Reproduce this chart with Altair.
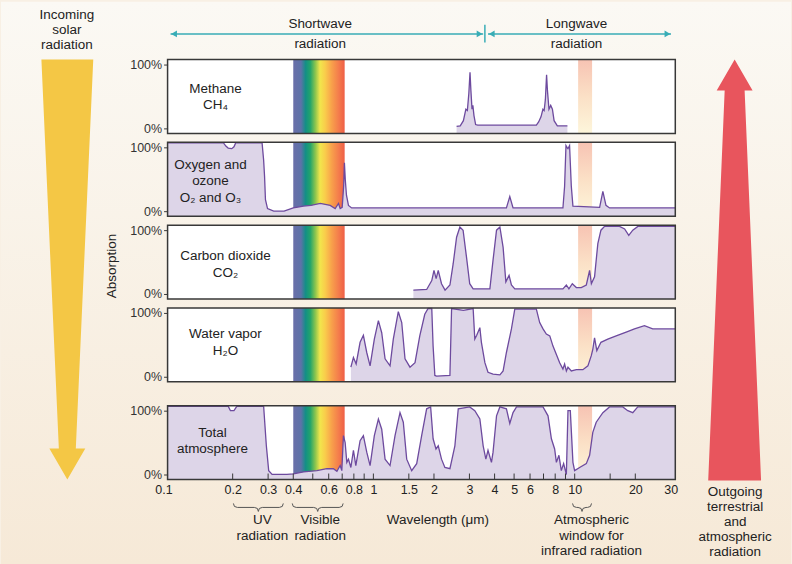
import altair as alt
import pandas as pd

# ---------------- data ----------------
tick_labels = [0.1, 0.2, 0.3, 0.4, 0.6, 0.8, 1, 1.5, 2, 3, 4, 5, 6, 8, 10, 20, 30]
tick_marks = [0.2, 0.3, 0.4, 0.5, 0.6, 0.7, 0.8, 0.9, 1, 1.5, 2, 3, 4, 5, 6, 7, 8, 9, 10, 15, 20]

visible_band = [0.40, 0.72]
window_band = [10.4, 12.2]

methane_wl = [2.59, 2.70, 2.80, 2.88, 2.93, 2.98, 3.02, 3.05, 3.09, 3.12, 3.16, 3.22, 3.30,
              6.45, 6.62, 6.80, 6.95, 7.05, 7.15, 7.25, 7.32, 7.45, 7.60, 7.75, 7.90, 8.20, 9.20]
methane_abs = [3, 4, 12, 30, 28, 55, 88, 60, 30, 36, 20, 6, 5,
               5, 10, 18, 30, 28, 45, 84, 60, 30, 36, 30, 12, 4, 4]

oxygen_wl = [0.095, 0.180, 0.185, 0.190, 0.198, 0.203, 0.207, 0.280, 0.285, 0.288, 0.291, 0.298,
             0.320, 0.360, 0.400, 0.450, 0.490, 0.545, 0.610, 0.646, 0.671, 0.684, 0.700, 0.712,
             0.718, 0.725, 0.735, 0.752, 0.780, 4.58, 4.76, 4.94, 8.74, 8.91, 9.05, 9.20, 9.26,
             9.43, 9.62, 9.80, 13.3, 13.8, 14.3, 14.9, 31.6]
oxygen_abs = [107, 107, 102, 99, 98, 101, 107, 107, 80, 55, 18, 4,
              0, 0, 5, 8, 9, 12, 9, 4, 12, 4, 6, 40,
              76, 50, 25, 9, 5, 5, 23, 5, 5, 39, 103, 99, 98,
              103, 39, 8, 6, 31, 9, 5, 5]

co2_wl = [1.58, 1.84, 1.95, 2.00, 2.05, 2.10, 2.18, 2.27, 2.40, 2.49, 2.59, 2.69, 2.79, 2.90,
          3.01, 3.13, 3.79, 3.93, 4.09, 4.25, 4.41, 4.55, 4.72, 4.85, 5.04, 8.74, 9.09, 9.36,
          9.73, 10.19, 10.78, 11.42, 11.86, 12.10, 12.55, 13.03, 13.50, 14.07, 16.70, 17.70,
          18.56, 19.43, 20.60, 31.6]
co2_abs = [6, 7, 21, 37, 24, 37, 16, 6, 14, 47, 89, 105, 100, 58,
           16, 8, 8, 53, 100, 105, 73, 19, 29, 14, 8, 8, 14, 8,
           16, 10, 10, 14, 37, 16, 27, 79, 100, 106, 106, 102,
           92, 100, 106, 106]

water_wl = [0.773, 0.796, 0.821, 0.859, 0.892, 0.927, 0.963, 1.011, 1.059, 1.10, 1.143, 1.21,
            1.256, 1.33, 1.383, 1.436, 1.52, 1.61, 1.70, 1.80, 1.87, 1.95, 1.98, 2.02, 2.06,
            2.40, 2.446, 2.80, 3.13, 3.19, 3.26, 3.38, 3.44, 3.58, 3.71, 3.93, 4.25, 4.41, 4.58,
            4.85, 5.04, 6.45, 6.70, 6.96, 7.23, 7.52, 7.80, 8.11, 8.42, 8.74, 8.91, 9.09, 9.26,
            9.62, 10.19, 10.98, 11.63, 12.09, 12.30, 12.55, 12.88, 13.50, 14.60, 16.07, 18.02,
            19.81, 22.20, 24.40, 27.30, 31.6]
water_abs = [15, 30, 20, 54, 65, 38, 17, 59, 88, 69, 28, 17,
             59, 102, 85, 28, 15, 22, 64, 98, 107, 107, 48, 2, 1,
             2, 107, 104, 107, 59, 65, 77, 54, 22, 7, 4, 3, 9, 38,
             75, 106, 106, 85, 75, 67, 64, 48, 35, 22, 12, 20, 9, 15,
             9, 11, 11, 17, 33, 43, 61, 41, 54, 59, 64, 70,
             75, 80, 75, 75, 75]

total_wl = [0.095, 0.19, 0.195, 0.203, 0.21, 0.285, 0.294, 0.302, 0.314, 0.372, 0.401, 0.45,
            0.524, 0.587, 0.633, 0.659, 0.684, 0.697, 0.71, 0.724, 0.738, 0.752, 0.773, 0.796,
            0.818, 0.859, 0.892, 0.927, 0.963, 1.011, 1.059, 1.10, 1.143, 1.21, 1.281, 1.356,
            1.408, 1.464, 1.55, 1.641, 1.737, 1.839, 1.925, 1.98, 2.046, 2.10, 2.18, 2.266, 2.40,
            2.54, 2.64, 3.01, 3.19, 3.38, 3.51, 3.62, 3.71, 3.86, 3.93, 4.09, 4.25, 4.58, 4.76,
            4.94, 5.14, 6.96, 7.37, 7.66, 7.95, 8.11, 8.35, 8.58, 8.81, 9.09, 9.26, 9.51, 9.80,
            9.99, 10.58, 11.42, 11.86, 12.30, 12.79, 13.80, 14.89, 17.33, 18.35, 19.43, 20.57, 31.6]
total_abs = [107, 107, 100, 100, 107, 107, 45, 6, 0, 0, 1, 4,
             6, 9, 9, 5, 14, 6, 61, 50, 19, 24, 11, 38,
             14, 53, 61, 35, 14, 61, 87, 71, 24, 14, 61, 97,
             82, 24, 6, 17, 61, 103, 106, 56, 40, 45, 24, 11, 9,
             45, 103, 106, 100, 87, 45, 24, 38, 19, 35, 92, 106, 103, 80,
             97, 106, 106, 92, 56, 40, 19, 30, 6, 17, 0, 100, 100, 19,
             6, 11, 17, 30, 66, 82, 97, 106, 106, 100, 97, 106, 106]

short_arrow = [0.0983, 3.51]
long_arrow = [3.71, 30.1]
divider = [3.58]

# ---------------- style ----------------
FONT = "Liberation Sans"
TXT = "#222222"
FILL = "#ddd5e8"
LINE = "#6d4a9e"
BORDER = "#383838"
CYAN = "#38adb6"
W, H = 509, 74
X_DOMAIN = [0.095, 31.6]
Y_DOMAIN = [-7.9, 107.9]

one = pd.DataFrame({"k": [0]})

RAINBOW = {"gradient": "linear", "x1": 0, "y1": 0, "x2": 1, "y2": 0, "stops": [
    {"offset": 0.0, "color": "#6a6fa9"}, {"offset": 0.15, "color": "#5d72a8"},
    {"offset": 0.24, "color": "#138f86"}, {"offset": 0.33, "color": "#22a46b"},
    {"offset": 0.43, "color": "#8cc54e"}, {"offset": 0.52, "color": "#f1e64c"},
    {"offset": 0.62, "color": "#f9cd4b"}, {"offset": 0.75, "color": "#f8a04b"},
    {"offset": 0.88, "color": "#f47d4c"}, {"offset": 1.0, "color": "#ef5f46"}]}
WINDOW = {"gradient": "linear", "x1": 0, "y1": 0, "x2": 0, "y2": 1, "stops": [
    {"offset": 0.0, "color": "#f7c3b3"}, {"offset": 0.5, "color": "#fbe0c6"},
    {"offset": 1.0, "color": "#fdf6db"}]}
BG = {"gradient": "linear", "x1": 0, "y1": 0, "x2": 0, "y2": 1, "stops": [
    {"offset": 0.0, "color": "#fbf9f4"}, {"offset": 1.0, "color": "#f6e9d7"}]}


def xs():
    return alt.Scale(type="log", domain=X_DOMAIN, nice=False)


def ys():
    return alt.Scale(domain=Y_DOMAIN, nice=False, zero=False)


def txt(t, x, y, size=13.5, align="center", angle=None):
    props = dict(align=align, baseline="middle", font=FONT, fontSize=size, color=TXT)
    if angle is not None:
        props["angle"] = angle
    return alt.Chart(one).mark_text(**props).encode(
        x=alt.value(x), y=alt.value(y), text=alt.value(t))


def poly(points, s):
    return "M" + " L".join(f"{px / s:.4f},{py / s:.4f}" for px, py in points) + " Z"


def symbol(path, size, x, y, color, filled=True):
    if filled:
        m = alt.Chart(one).mark_point(shape=path, size=size, filled=True, color=color,
                                      opacity=1, strokeWidth=0)
    else:
        m = alt.Chart(one).mark_point(shape=path, size=size, filled=False, color=color,
                                      opacity=1, strokeWidth=1)
    return m.encode(x=alt.value(x), y=alt.value(y))


def brace(width, x, y):
    h = width / 2.0
    p = (f"M{-1:.4f},{-3 / h:.4f} Q{-1:.4f},{1 / h:.4f} {(-h + 4) / h:.4f},{1 / h:.4f} "
         f"L{-4 / h:.4f},{1 / h:.4f} Q0,{1 / h:.4f} 0,{5 / h:.4f} "
         f"Q0,{1 / h:.4f} {4 / h:.4f},{1 / h:.4f} L{(h - 4) / h:.4f},{1 / h:.4f} "
         f"Q1,{1 / h:.4f} 1,{-3 / h:.4f}")
    return symbol(p, width * width, x, y, "#555555", filled=False)


def white_box():
    return alt.Chart(one).mark_rect(fill="white").encode(
        x=alt.value(0), x2=alt.value(W), y=alt.value(0), y2=alt.value(H))


def panel(wl, ab, labels, bottom=False, before=(), after=()):
    df = pd.DataFrame({"wl": wl, "ab": ab})
    yaxis = alt.Axis(values=[0, 100], labelExpr="datum.value + '%'", title=None,
                     domain=False, grid=False, ticks=True, tickSize=4, tickColor=BORDER,
                     labelFontSize=12.5, labelColor="#333333", labelPadding=2,
                     labelFont=FONT, zindex=1)
    if bottom:
        xaxis = alt.Axis(values=tick_labels, format="~g", title=None, domain=False,
                         grid=False, ticks=False, tickSize=0, labelPadding=4,
                         labelFontSize=12.5, labelColor=TXT, labelFont=FONT,
                         labelOverlap=False, labelFlush=False, labelBound=False,
                         labelAlign={"condition": {"test": "datum.value < 0.15",
                                                   "value": "right"},
                                     "value": "center"},
                         zindex=1)
    else:
        xaxis = None

    def band(lims, grad):
        d = pd.DataFrame({"a": [lims[0]], "b": [lims[1]]})
        return alt.Chart(d).mark_rect(fill=grad).encode(
            x=alt.X("a:Q", scale=xs(), axis=xaxis), x2=alt.X2("b"),
            y=alt.value(0), y2=alt.value(H))

    area = alt.Chart(df).mark_area(color=FILL, opacity=1).encode(
        x=alt.X("wl:Q", scale=xs(), axis=xaxis),
        y=alt.Y("ab:Q", scale=ys(), axis=yaxis, stack=False),
        y2=alt.value(H))
    line = alt.Chart(df).mark_line(color=LINE, strokeWidth=1.3).encode(
        x=alt.X("wl:Q", scale=xs(), axis=xaxis),
        y=alt.Y("ab:Q", scale=ys(), axis=yaxis))
    border = alt.Chart(one).mark_rect(fillOpacity=0, stroke=BORDER, strokeWidth=1.5).encode(
        x=alt.value(0), x2=alt.value(W), y=alt.value(0), y2=alt.value(H))
    layers = list(before) + [white_box(), band(visible_band, RAINBOW),
                             band(window_band, WINDOW), area, line, border]
    if bottom:
        layers.append(alt.Chart(pd.DataFrame({"t": tick_marks})).mark_rule(
            color=BORDER, strokeWidth=1).encode(
            x=alt.X("t:Q", scale=xs(), axis=xaxis), y=alt.value(H - 6), y2=alt.value(H)))
    layers += [txt(t, x, y) for (t, x, y) in labels]
    layers += list(after)
    return alt.layer(*layers).properties(width=W, height=H)


# ---- panel 1 decorations (coordinates relative to panel 1 origin) ----
bg = alt.Chart(one).mark_rect(fill=BG).encode(
    x=alt.value(-167), x2=alt.value(625), y=alt.value(-58), y2=alt.value(506))

seg = pd.DataFrame({"a": [short_arrow[0], long_arrow[0]], "b": [short_arrow[1], long_arrow[1]]})
cyan_rule = alt.Chart(seg).mark_rule(color=CYAN, strokeWidth=1.5).encode(
    x=alt.X("a:Q", scale=xs(), axis=None), x2=alt.X2("b"), y=alt.value(-25.7))
heads_l = alt.Chart(pd.DataFrame({"p": [0.1023, 3.87]})).mark_point(
    shape="triangle-left", size=45, filled=True, color=CYAN, opacity=1).encode(
    x=alt.X("p:Q", scale=xs(), axis=None), y=alt.value(-25.7))
heads_r = alt.Chart(pd.DataFrame({"p": [3.37, 28.9]})).mark_point(
    shape="triangle-right", size=45, filled=True, color=CYAN, opacity=1).encode(
    x=alt.X("p:Q", scale=xs(), axis=None), y=alt.value(-25.7))
div_rule = alt.Chart(pd.DataFrame({"p": divider})).mark_rule(color=CYAN, strokeWidth=1.5).encode(
    x=alt.X("p:Q", scale=xs(), axis=None), y=alt.value(-35), y2=alt.value(-17))

sy = 210.5
yellow_path = poly([(-26, -210.5), (26, -210.5), (8.5, 179.5), (18, 179.5), (0, 210.5),
                    (-18, 179.5), (-8.5, 179.5)], sy)
sr = 211.0
red_path = poly([(0, -211), (18, -180), (10, -180), (26.5, 211), (-26.5, 211),
                 (-10, -180), (-18, -180)], sr)

p1_after = [
    cyan_rule, heads_l, heads_r, div_rule,
    txt("Shortwave", 153, -36), txt("radiation", 153, -16),
    txt("Longwave", 410, -36), txt("radiation", 410, -16),
    symbol(yellow_path, (2 * sy) ** 2, -100.5, 210.5, "#f4c745"),
    symbol(red_path, (2 * sr) ** 2, 568.5, 211, "#e8555d"),
    txt("Incoming", -101, -45), txt("solar", -101, -30), txt("radiation", -101, -15),
    txt("Outgoing", 569, 434), txt("terrestrial", 569, 449), txt("and", 569, 464),
    txt("atmospheric", 569, 479), txt("radiation", 569, 494),
    txt("Absorption", -56, 207, angle=270),
]

p5_after = [
    brace(50, 91, 101), brace(51, 150.5, 101), brace(19, 415.5, 101),
    txt("UV", 95, 115), txt("radiation", 95, 131),
    txt("Visible", 153, 115), txt("radiation", 153, 131),
    txt("Wavelength (μm)", 271, 115),
    txt("Atmospheric", 425, 115), txt("window for", 425, 131),
    txt("infrared radiation", 425, 146),
]

p1 = panel(methane_wl, methane_abs, [("Methane", 48, 30), ("CH₄", 48, 46)],
           before=[bg], after=p1_after)
p2 = panel(oxygen_wl, oxygen_abs,
           [("Oxygen and", 43, 23), ("ozone", 43, 39), ("O₂ and O₃", 43, 56)])
p3 = panel(co2_wl, co2_abs, [("Carbon dioxide", 58, 31), ("CO₂", 58, 48)])
p4 = panel(water_wl, water_abs, [("Water vapor", 58, 26), ("H₂O", 58, 43)])
p5 = panel(total_wl, total_abs, [("Total", 45, 27), ("atmosphere", 45, 43)],
           bottom=True, after=p5_after)

# empty spacer view that widens the gap above the total-atmosphere panel
spacer = alt.Chart(one).mark_point(opacity=0).encode(
    x=alt.value(0), y=alt.value(0)).properties(width=W, height=6)

chart = alt.vconcat(p1, p2, p3, p4, spacer, p5, spacing=9, bounds="flush").properties(
    padding=0, background="#f8f0e4"
).configure_view(fill="transparent", stroke="transparent")

chart.save("out.html", embed_options={"renderer": "svg", "actions": False})
